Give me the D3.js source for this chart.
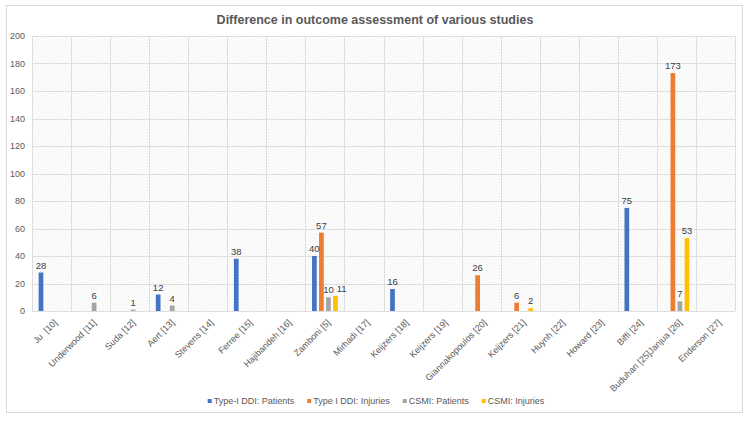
<!DOCTYPE html>
<html>
<head>
<meta charset="utf-8">
<script src="https://cdn.jsdelivr.net/npm/d3@7"></script>
<style>
  body { margin: 0; background: #fff; }
  text { font-family: "Liberation Sans", Arial, sans-serif; }
</style>
</head>
<body>
<script>
const width = 750,
      height = 422

const studies = ['Ju  [10]', 'Underwood [11]', 'Suda [12]', 'Aert [13]', 'Stevens [14]', 'Ferree [15]',
    'Hajibandeh [16]', 'Zamboni [5]', 'Mirhadi [17]', 'Keijzers [18]', 'Keijzers [19]',
    'Giannakopoulos [20]', 'Keijzers [21]', 'Huynh [22]', 'Howard [23]', 'Biffi [24]',
    'Buduhan [25]Janjua [26]', 'Enderson [27]']

const seriesNames = ['Type-I DDI: Patients', 'Type I DDI: Injuries', 'CSMI: Patients', 'CSMI: Injuries']
const seriesColors = ['#4472C4', '#ED7D31', '#A5A5A5', '#FFC000']

// null = no bar
const ddiPatients = [28, null, null, 12, null, 38, null, 40, null, 16, null, null, null, null, null, 75, null, null]
const ddiInjuries = [null, null, null, null, null, null, null, 57, null, null, null, 26, 6, null, null, null, 173, null]
const csmiPatients = [null, 6, 1, 4, null, null, null, 10, null, null, null, null, null, null, null, null, 7, null]
const csmiInjuries = [null, null, null, null, null, null, null, 11, null, null, null, null, 2, null, null, null, 53, null]

const yTicks = [0, 20, 40, 60, 80, 100, 120, 140, 160, 180, 200]

const allSeries = [ddiPatients, ddiInjuries, csmiPatients, csmiInjuries]

const bars = []
studies.forEach((s, i) => {
    allSeries.forEach((vals, k) => {
        if (vals[i] !== null) bars.push({ study: s, series: k, value: vals[i] })
    })
})

const plot = { left: 32, right: 735, top: 36, bottom: 311 }

const svg = d3.select('body').append('svg')
    .attr('width', width)
    .attr('height', height)

// outer frame
svg.append('rect')
    .attr('x', 6.5).attr('y', 5.5)
    .attr('width', 736).attr('height', 407)
    .attr('fill', '#fff')
    .attr('stroke', '#d9d9d9')

// hatch pattern for plot area
const pat = svg.append('defs').append('pattern')
    .attr('id', 'hatch')
    .attr('patternUnits', 'userSpaceOnUse')
    .attr('width', 3).attr('height', 3)
pat.append('rect').attr('width', 3).attr('height', 3).attr('fill', '#fff')
pat.append('path')
    .attr('d', 'M-1,-1 L4,4 M-1,2 L1,4 M2,-1 L4,1')
    .attr('stroke', '#ececec')
    .attr('stroke-width', 0.8)

const x = d3.scaleBand()
    .domain(studies)
    .range([plot.left, plot.right])

const xInner = d3.scaleBand()
    .domain(d3.range(seriesNames.length))
    .range([x.bandwidth() * 0.17, x.bandwidth() * 0.83])
    .paddingInner(0.33)

const y = d3.scaleLinear()
    .domain([0, 200])
    .range([plot.bottom, plot.top])

svg.append('rect')
    .attr('x', plot.left).attr('y', plot.top)
    .attr('width', plot.right - plot.left).attr('height', plot.bottom - plot.top)
    .attr('fill', 'url(#hatch)')

// gridlines
svg.append('g')
    .selectAll('line')
    .data(yTicks)
    .enter()
    .append('line')
        .attr('x1', plot.left).attr('x2', plot.right)
        .attr('y1', d => Math.round(y(d)) + 0.5)
        .attr('y2', d => Math.round(y(d)) + 0.5)
        .attr('stroke', '#dedede')

svg.append('g')
    .selectAll('line')
    .data(studies.concat(['end']))
    .enter()
    .append('line')
        .attr('x1', (d, i) => Math.round(plot.left + i * x.step()) + 0.5)
        .attr('x2', (d, i) => Math.round(plot.left + i * x.step()) + 0.5)
        .attr('y1', plot.top).attr('y2', plot.bottom)
        .attr('stroke', '#dedede')

// y axis labels
const yAxis = svg.append('g')
    .attr('transform', `translate(${plot.left - 3},0)`)
    .call(d3.axisLeft(y).tickValues(yTicks).tickSize(0).tickPadding(4))
yAxis.select('.domain').remove()
yAxis.selectAll('text')
    .style('font-family', '"Liberation Sans", Arial, sans-serif')
    .style('font-size', '9px')
    .attr('fill', '#595959')

// x axis labels
const xAxis = svg.append('g')
    .attr('transform', `translate(0,${plot.bottom})`)
    .call(d3.axisBottom(x).tickSize(0).tickPadding(0))
xAxis.select('.domain').remove()
xAxis.selectAll('text')
    .style('font-family', '"Liberation Sans", Arial, sans-serif')
    .style('font-size', '9px')
    .style('white-space', 'pre')
    .attr('fill', '#595959')
    .attr('text-anchor', 'end')
    .attr('dy', '0.35em')
    .attr('transform', 'translate(4,10) rotate(-45)')

// bars
svg.append('g')
    .selectAll('rect')
    .data(bars)
    .enter()
    .append('rect')
        .attr('x', d => x(d.study) + xInner(d.series))
        .attr('width', xInner.bandwidth())
        .attr('y', d => y(d.value))
        .attr('height', d => y(0) - y(d.value))
        .attr('fill', d => seriesColors[d.series])

// value labels, nudged right when they would collide with the previous one
const labels = svg.append('g')
    .selectAll('text')
    .data(bars)
    .enter()
    .append('text')
        .attr('x', d => x(d.study) + xInner(d.series) + xInner.bandwidth() / 2)
        .attr('y', d => y(d.value) - 4)
        .attr('text-anchor', 'middle')
        .style('font-size', '9.5px')
        .attr('fill', '#404040')
        .text(d => d.value)

let prev = null
labels.each(function(d) {
    const bb = this.getBBox()
    if (prev && prev.study === d.study && Math.abs(prev.bb.y - bb.y) < bb.height && bb.x < prev.bb.x + prev.bb.width + 2) {
        const shift = prev.bb.x + prev.bb.width + 3 - bb.x
        d3.select(this).attr('x', +d3.select(this).attr('x') + shift)
    }
    prev = { study: d.study, bb: this.getBBox() }
})

// title
svg.append('text')
    .attr('x', 375)
    .attr('y', 24)
    .attr('text-anchor', 'middle')
    .style('font-size', '12.5px')
    .style('font-weight', 'bold')
    .attr('fill', '#595959')
    .text('Difference in outcome assessment of various studies')

// legend
const legend = svg.append('g')
let lx = 0
seriesNames.forEach((name, i) => {
    const item = legend.append('g').attr('transform', `translate(${lx},0)`)
    item.append('rect')
        .attr('x', 0).attr('y', -2)
        .attr('width', 4).attr('height', 4)
        .attr('fill', seriesColors[i])
    const t = item.append('text')
        .attr('x', 6)
        .attr('y', 0)
        .attr('dy', '0.35em')
        .style('font-size', '9px')
        .attr('fill', '#595959')
        .text(name)
    lx += 6 + t.node().getComputedTextLength() + 13
})
const lw = lx - 13
legend.attr('transform', `translate(${376 - lw / 2},401)`)
</script>
</body>
</html>
